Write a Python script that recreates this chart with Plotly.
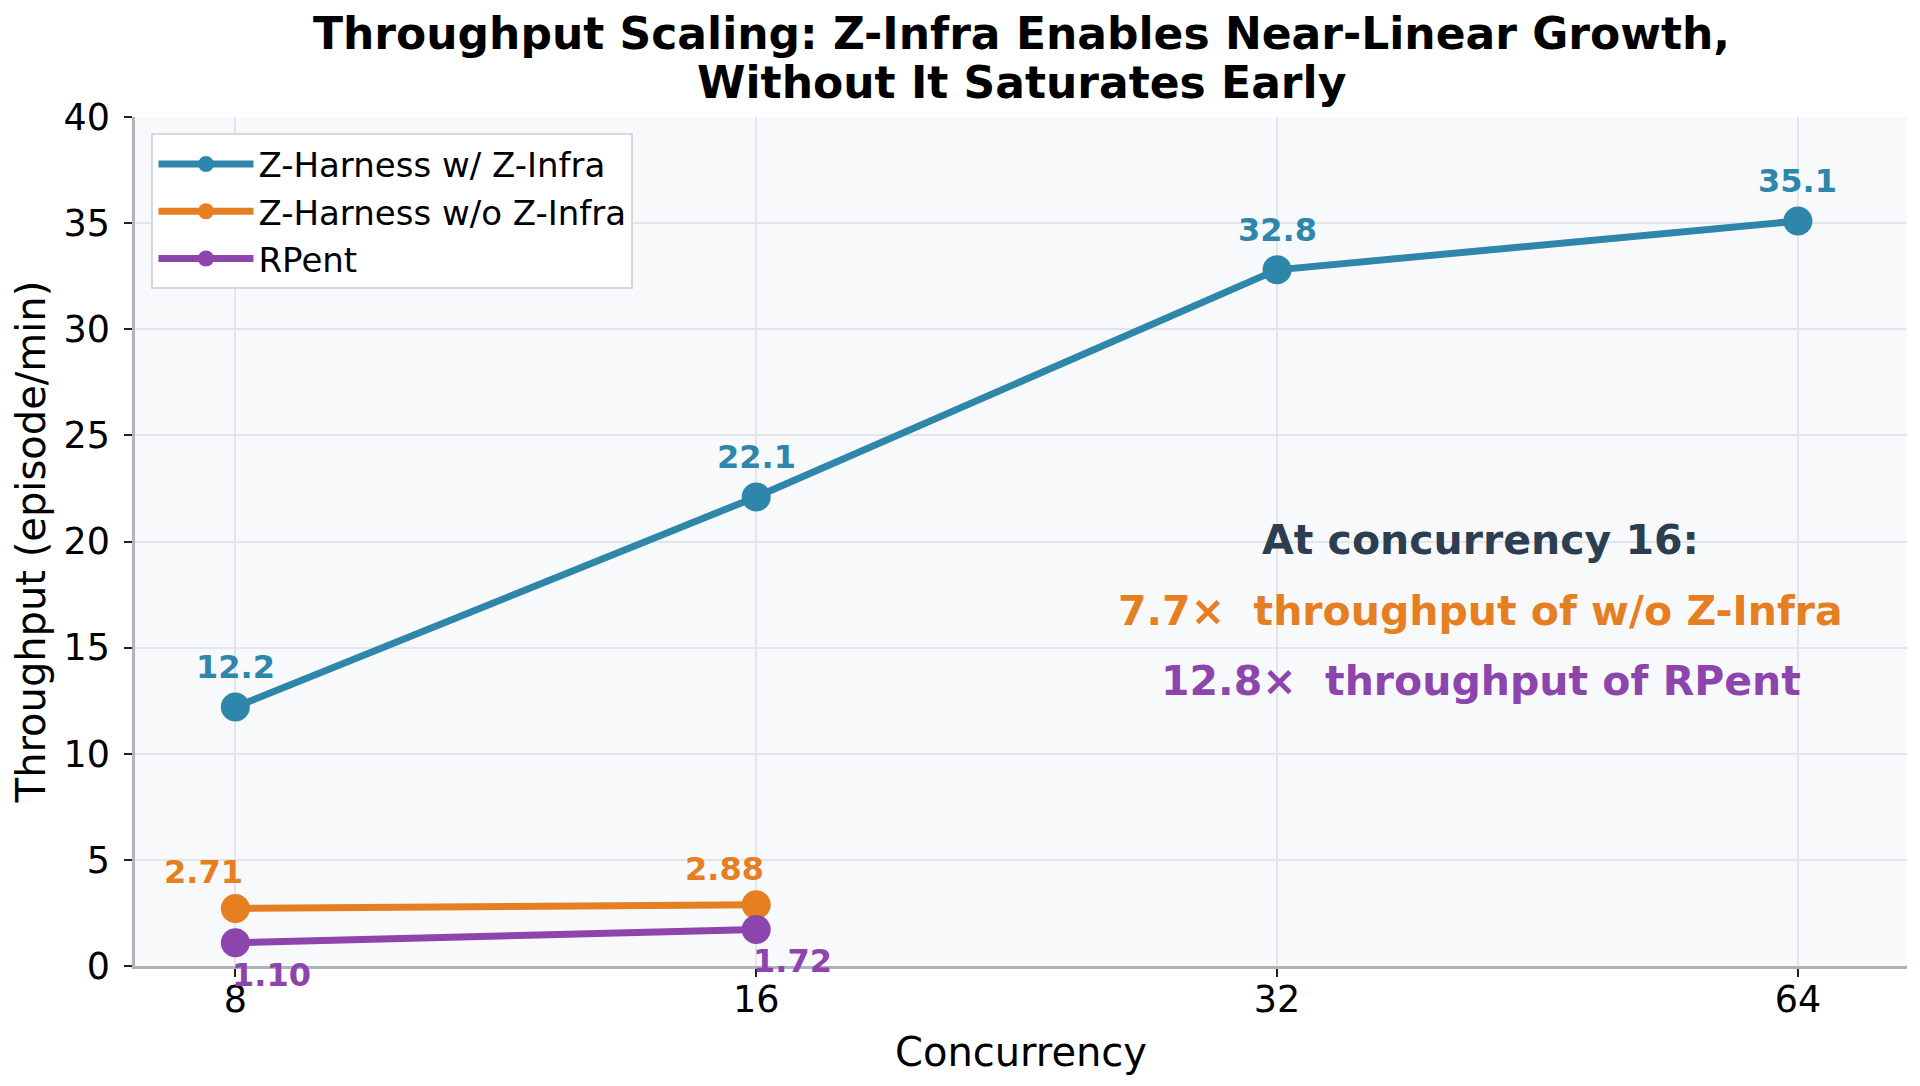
import numpy as np
import plotly.graph_objects as go

# concurrency levels (x) and throughput in episode/min
concurrency = [8, 16, 32, 64]
with_infra = [12.2, 22.1, 32.8, 35.1]
without_infra = [2.71, 2.88]
rpent = [1.10, 1.72]

series_names = ["Z-Harness w/ Z-Infra", "Z-Harness w/o Z-Infra", "RPent"]
series_colors = ["#2E86AB", "#E67E22", "#8E44AD"]
label_fmt = ["{:.1f}", "{:.2f}", "{:.2f}"]

title_lines = ["Throughput Scaling: Z-Infra Enables Near-Linear Growth,",
               "Without It Saturates Early"]
note_lines = ["At concurrency 16:",
              "7.7×  throughput of w/o Z-Infra",
              "12.8×  throughput of RPent"]
note_colors = ["#2C3E50", "#E67E22", "#8E44AD"]

FONT = "DejaVu Sans"

fig = go.Figure()

all_values = [with_infra, without_infra, rpent]
# value label offsets in px (dx, dy) per series
label_shift = [(0, 40), (-32, 36), (36, -32)]

for i, (name, vals, color) in enumerate(zip(series_names, all_values, series_colors)):
    xs = concurrency[:len(vals)]
    fig.add_trace(go.Scatter(
        x=xs, y=vals, name=name, mode="lines+markers",
        line=dict(color=color, width=7),
        marker=dict(color=color, size=29),
        legendgroup=name,
    ))
    dx, dy = label_shift[i]
    for xv, yv in zip(xs, vals):
        fig.add_annotation(
            x=np.log10(xv), y=yv, xref="x", yref="y",
            text=label_fmt[i].format(yv), showarrow=False,
            xshift=dx, yshift=dy,
            font=dict(family=FONT, size=32, color=color, weight="bold"),
        )

# title, two lines placed separately to keep the tight line spacing
for txt, yy in zip(title_lines, [1.0989, 1.0412]):
    fig.add_annotation(
        x=0.5, y=yy, xref="paper", yref="paper", text=txt, showarrow=False,
        xanchor="center", yanchor="middle",
        font=dict(family=FONT, size=44, color="black", weight="bold"),
    )

note_y = [0.5018, 0.418, 0.3357]
for txt, col, yy in zip(note_lines, note_colors, note_y):
    fig.add_annotation(
        x=0.7594, y=yy, xref="paper", yref="paper", text=txt, showarrow=False,
        xanchor="center", yanchor="middle",
        font=dict(family=FONT, size=41, color=col, weight="bold"),
    )

fig.update_layout(
    width=1920, height=1086,
    margin=dict(l=127, r=21, t=109, b=128),
    paper_bgcolor="white", plot_bgcolor="#F8F9FA",
    font=dict(family=FONT, size=36, color="black"),
    legend=dict(
        x=0.0093, y=0.9806, xanchor="left", yanchor="top",
        bgcolor="white", bordercolor="#D5D8DC", borderwidth=2,
        font=dict(family=FONT, size=34, color="black"),
        tracegroupgap=0, itemwidth=95,
    ),
    showlegend=True,
)

fig.update_xaxes(
    type="log", range=[np.log10(7), np.log10(74)],
    tickvals=concurrency, ticktext=[str(c) for c in concurrency],
    showgrid=True, gridcolor="#E3E5E8", gridwidth=1.5,
    showline=True, linecolor="#B0B3B8", linewidth=2.5,
    ticks="outside", ticklen=8, tickwidth=2, tickcolor="#222",
    tickfont=dict(size=36.5), ticklabelstandoff=-9, zeroline=False,
    title=dict(text="Concurrency", font=dict(size=40), standoff=19),
)
fig.update_yaxes(
    range=[0, 40], dtick=5,
    showgrid=True, gridcolor="#E3E5E8", gridwidth=1.5,
    showline=True, linecolor="#B0B3B8", linewidth=2.5,
    ticks="outside", ticklen=8, tickwidth=2, tickcolor="#222",
    tickfont=dict(size=36.5), ticklabelstandoff=7, zeroline=False,
    title=dict(text="Throughput (episode/min)", font=dict(size=40), standoff=10),
)

fig.write_html("out.html")
